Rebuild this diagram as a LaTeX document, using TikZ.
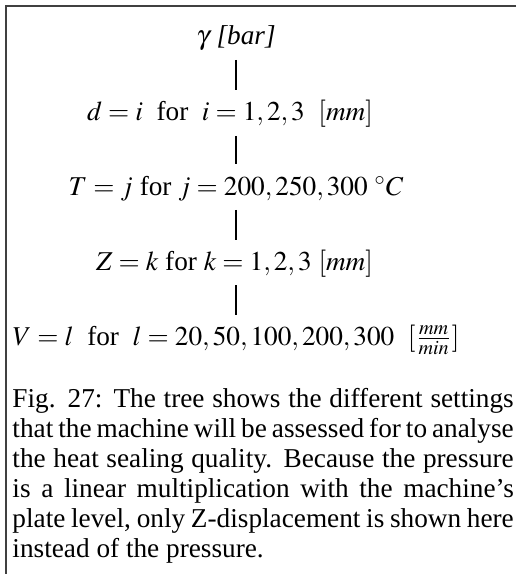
\documentclass[tikz,border=0pt]{standalone}
\usepackage{mathptmx}
\usepackage{amsmath}
\usepackage[no-math]{fontspec}
\setmainfont{Liberation Serif}
\usepackage{tikz}
\usetikzlibrary{positioning}
\tikzset{
	setting/.style={anchor=base, inner sep=4pt, text height=8pt, text depth=1.8pt},
	branch/.style={draw, line width=0.45pt},
	frameline/.style={draw=black!75, line width=0.6pt},
	caption/.style={anchor=north west, inner sep=0pt, text width=200.5pt, align=justify}
}
\newcommand{\forwhich}{\enspace\text{for}\enspace}

\begin{document}
\begin{tikzpicture}[font=\fontsize{10.9pt}{12pt}\selectfont]
			\useasboundingbox (0,0) rectangle (206.4pt,-229.6pt);
			% Frame
			\draw[frameline] (206.4pt,-2.4pt) -- (2.4pt,-2.4pt) -- (2.4pt,-229.6pt);
			
			% Settings tree
			\node[setting] (L-1) at (94.4pt,-18pt) {$\gamma$ \textit{[bar]}};
			\node[setting] (L-2) at (92pt,-48.4pt) {$d=i\forwhich i=1,2,3\enspace[mm]$};
			\node[setting] (L-3) at (94.4pt,-78pt) {$T=j\ \text{for}\ j=200,250,300\ ^{\circ}C$};
			\node[setting] (L-4) at (93.8pt,-108pt) {$Z=k\ \text{for}\ k=1,2,3\ [mm]$};
			\node[setting] (L-5) at (94.4pt,-138pt) {$V=l\forwhich l=20,50,100,200,300\enspace[\frac{mm}{min}]$};
			
			% Branches
			\foreach \i/\j in {1/2,2/3,3/4,4/5}
			\draw[branch] (L-\i.south -| L-1) -- (L-\j.north -| L-1);
			
			% Caption
			\node[caption] (cap) at (4.8pt,-155pt) {\hyphenpenalty=10000 Fig. 27: The tree shows the different settings\linebreak that the machine will be assessed for to analyse\linebreak the heat sealing quality. Because the pressure\linebreak is a linear multiplication with the machine's\linebreak plate level, only Z-displacement is shown here\linebreak instead of the pressure.};
		\end{tikzpicture}
\end{document}
